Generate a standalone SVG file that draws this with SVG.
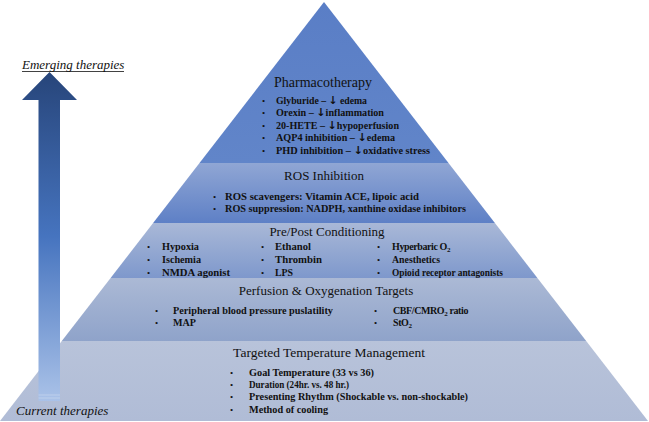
<svg xmlns="http://www.w3.org/2000/svg" width="649" height="422" viewBox="0 0 649 422">
<defs>
<linearGradient id="gPharm" x1="0" y1="0" x2="0" y2="1"><stop offset="0" stop-color="#5a7ec6"/><stop offset="1" stop-color="#6185c9"/></linearGradient>
<linearGradient id="gRos" x1="0" y1="0" x2="0" y2="1"><stop offset="0" stop-color="#90a6d4"/><stop offset="1" stop-color="#5e80c6"/></linearGradient>
<linearGradient id="gPre" x1="0" y1="0" x2="0" y2="1"><stop offset="0" stop-color="#a9b8d7"/><stop offset="1" stop-color="#7e98cc"/></linearGradient>
<linearGradient id="gPerf" x1="0" y1="0" x2="0" y2="1"><stop offset="0" stop-color="#abb9d5"/><stop offset="1" stop-color="#8fa3ca"/></linearGradient>
<linearGradient id="gTtm" x1="0" y1="0" x2="0" y2="1"><stop offset="0" stop-color="#b8c3da"/><stop offset="1" stop-color="#b0bcd6"/></linearGradient>
<linearGradient id="gArrow" gradientUnits="userSpaceOnUse" x1="0" y1="72" x2="0" y2="401"><stop offset="0" stop-color="#27457a"/><stop offset="0.5" stop-color="#4674bf"/><stop offset="1" stop-color="#aac2e8"/></linearGradient>
</defs>
<style>
.title{font-family:"Liberation Serif","Times New Roman",serif;font-size:13px;fill:#111;text-anchor:middle}
.item{font-family:"Liberation Serif","Times New Roman",serif;font-size:10px;font-weight:bold;fill:#111}
.bul{font-family:"Liberation Serif","Times New Roman",serif;font-size:9px;fill:#111}
.lbl{font-family:"Liberation Serif","Times New Roman",serif;font-size:13px;font-style:italic;fill:#111}
.sub{font-size:7px}
.dn{font-family:"DejaVu Sans",sans-serif;font-size:11px;font-weight:bold}
</style>

<g id="ttm">
<polygon points="61.8,341 586.2,341 648,421 0,421" fill="url(#gTtm)"/>
<text class="title" x="329" y="357" style="font-size:13.5px">Targeted Temperature Management</text>
<text class="bul" x="230" y="376">•</text><text class="item" x="249" y="376" textLength="125" lengthAdjust="spacingAndGlyphs">Goal Temperature (33 vs 36)</text>
<text class="bul" x="230" y="388">•</text><text class="item" x="249" y="388" textLength="100" lengthAdjust="spacingAndGlyphs">Duration (24hr. vs. 48 hr.)</text>
<text class="bul" x="230" y="400">•</text><text class="item" x="249" y="400" textLength="219" lengthAdjust="spacingAndGlyphs">Presenting Rhythm (Shockable vs. non-shockable)</text>
<text class="bul" x="230" y="413">•</text><text class="item" x="249" y="413" textLength="79" lengthAdjust="spacingAndGlyphs">Method of cooling</text>
</g>

<g id="perfusion">
<polygon points="110.6,278 537.4,278 586.2,341 61.8,341" fill="url(#gPerf)"/>
<text class="title" x="326" y="295">Perfusion &amp; Oxygenation Targets</text>
<text class="bul" x="155" y="314">•</text><text class="item" x="173" y="314" textLength="160" lengthAdjust="spacingAndGlyphs">Peripheral blood pressure puslatility</text>
<text class="bul" x="155" y="326">•</text><text class="item" x="173" y="326" textLength="23" lengthAdjust="spacingAndGlyphs">MAP</text>
<text class="bul" x="374" y="314">•</text><text class="item" x="393" y="314" style="letter-spacing:-0.4px">CBF/CMRO<tspan class="sub" dy="2">2</tspan><tspan dy="-2"> ratio</tspan></text>
<text class="bul" x="374" y="326">•</text><text class="item" x="393" y="326" style="letter-spacing:-0.4px">StO<tspan class="sub" dy="2">2</tspan></text>
</g>

<g id="prepost">
<polygon points="153.1,223 494.9,223 537.4,278 110.6,278" fill="url(#gPre)"/>
<text class="title" x="327" y="236">Pre/Post Conditioning</text>
<text class="bul" x="147" y="250">•</text><text class="item" x="162" y="250" textLength="37" lengthAdjust="spacingAndGlyphs">Hypoxia</text>
<text class="bul" x="147" y="263">•</text><text class="item" x="162" y="263" textLength="39" lengthAdjust="spacingAndGlyphs">Ischemia</text>
<text class="bul" x="147" y="276">•</text><text class="item" x="162" y="276" textLength="68" lengthAdjust="spacingAndGlyphs">NMDA agonist</text>
<text class="bul" x="261" y="250">•</text><text class="item" x="275" y="250" textLength="36" lengthAdjust="spacingAndGlyphs">Ethanol</text>
<text class="bul" x="261" y="263">•</text><text class="item" x="275" y="263" textLength="47" lengthAdjust="spacingAndGlyphs">Thrombin</text>
<text class="bul" x="261" y="276">•</text><text class="item" x="275" y="276" textLength="18" lengthAdjust="spacingAndGlyphs">LPS</text>
<text class="bul" x="377" y="250">•</text><text class="item" x="392" y="250" style="letter-spacing:-0.4px">Hyperbaric O<tspan class="sub" dy="2">2</tspan></text>
<text class="bul" x="377" y="263">•</text><text class="item" x="392" y="263" textLength="48" lengthAdjust="spacingAndGlyphs">Anesthetics</text>
<text class="bul" x="377" y="276">•</text><text class="item" x="392" y="276" textLength="111" lengthAdjust="spacingAndGlyphs">Opioid receptor antagonists</text>
</g>

<g id="ros">
<polygon points="199.5,163 448.5,163 494.9,223 153.1,223" fill="url(#gRos)"/>
<text class="title" x="324" y="180">ROS Inhibition</text>
<text class="bul" x="213" y="200">•</text><text class="item" x="225" y="200" textLength="194" lengthAdjust="spacingAndGlyphs">ROS scavengers: Vitamin ACE, lipoic acid</text>
<text class="bul" x="213" y="212">•</text><text class="item" x="225" y="212" textLength="241" lengthAdjust="spacingAndGlyphs">ROS suppression: NADPH, xanthine oxidase inhibitors</text>
</g>

<g id="pharmacotherapy">
<polygon points="324,2 448.5,163 199.5,163" fill="url(#gPharm)"/>
<text class="title" x="323" y="87" style="font-size:14px">Pharmacotherapy</text>
<text class="bul" x="262" y="104">•</text><text class="item" x="276" y="104" textLength="91" lengthAdjust="spacingAndGlyphs">Glyburide – <tspan class="dn">↓</tspan> edema</text>
<text class="bul" x="262" y="116">•</text><text class="item" x="276" y="116" textLength="108" lengthAdjust="spacingAndGlyphs">Orexin – <tspan class="dn">↓</tspan>inflammation</text>
<text class="bul" x="262" y="128.5">•</text><text class="item" x="276" y="128.5" textLength="123" lengthAdjust="spacingAndGlyphs">20-HETE – <tspan class="dn">↓</tspan>hypoperfusion</text>
<text class="bul" x="262" y="141">•</text><text class="item" x="276" y="141" textLength="119" lengthAdjust="spacingAndGlyphs">AQP4 inhibition – <tspan class="dn">↓</tspan>edema</text>
<text class="bul" x="262" y="153.5">•</text><text class="item" x="276" y="153.5" textLength="154" lengthAdjust="spacingAndGlyphs">PHD inhibition – <tspan class="dn">↓</tspan>oxidative stress</text>
</g>

<g id="arrow">
<polygon points="49.5,72 77,100 60,100 60,401 38.5,401 38.5,100 22,100" fill="url(#gArrow)"/>
<line x1="38.5" y1="395" x2="60" y2="395" stroke="#c4d4ee" stroke-width="0.8"/>
<line x1="38.5" y1="398" x2="60" y2="398" stroke="#c4d4ee" stroke-width="0.8"/>
</g>

<g id="labels">
<text class="lbl" x="22" y="69">Emerging therapies</text>
<line x1="22" y1="71.5" x2="124" y2="71.5" stroke="#111" stroke-width="0.8"/>
<text class="lbl" x="16" y="415">Current therapies</text>
</g>
</svg>
